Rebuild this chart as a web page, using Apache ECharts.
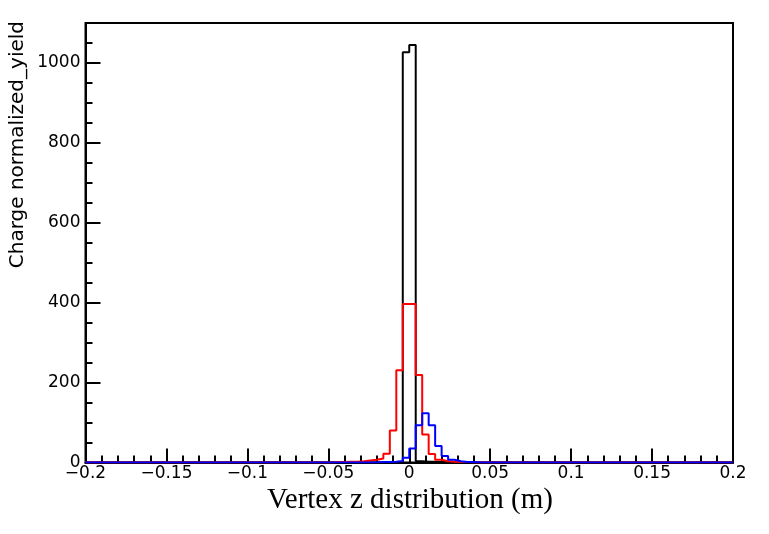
<!DOCTYPE html>
<html>
<head>
<meta charset="utf-8">
<script src="https://cdn.jsdelivr.net/npm/echarts@6/dist/echarts.min.js"></script>
<style>
html,body{margin:0;padding:0;background:#fff;}
#chart{width:769px;height:534px;}
</style>
</head>
<body>
<div id="chart"></div>
<script>
// Histogram binning
const axisMin = -0.2;
const axisMax = 0.2;
const binWidth = 0.004;
// values of the bins starting at windowLow (all other bins are empty)
const windowLow = -0.048;
const blackValues = [0, 0, 0, 0, 0, 0, 0, 0, 0, 0, 1, 1027, 1045, 3, 2, 2, 1, 1, 1, 0, 0, 0, 0, 0];
const redValues   = [1, 1, 2, 2, 3, 5, 7, 10, 22, 80, 231, 397, 397, 219, 70, 21, 7, 3, 2, 1, 1, 0, 0, 0];
const blueValues  = [0, 0, 0, 0, 0, 0, 0, 1, 1, 2, 4, 12, 35, 93, 123, 93, 41, 16, 7, 3, 1, 1, 0, 0];

const xTicks = [-0.2, -0.15, -0.1, -0.05, 0, 0.05, 0.1, 0.15, 0.2];
const yTicks = [0, 200, 400, 600, 800, 1000];

const xTitle = 'Vertex z distribution (m)';
const yTitle = 'Charge normalized_yield';

function histPoints(values) {
  const pts = [[axisMin, 0]];
  for (let i = 0; i < values.length; i++) {
    pts.push([+(windowLow + i * binWidth).toFixed(4), values[i]]);
  }
  const hi = +(windowLow + values.length * binWidth).toFixed(4);
  pts.push([hi, 0]);
  pts.push([axisMax, 0]);
  return pts;
}

const chart = echarts.init(document.getElementById('chart'), null, {renderer: 'canvas'});
const labelFont = 'DejaVu Sans';
const option = {
  animation: false,
  backgroundColor: '#ffffff',
  grid: {
    left: 85.5, right: 36, top: 23, bottom: 71.5,
    show: true, borderColor: '#000', borderWidth: 2, backgroundColor: 'transparent'
  },
  xAxis: {
    type: 'value',
    min: axisMin, max: axisMax, interval: 0.05,
    axisLine: {show: true, onZero: false, lineStyle: {color: '#000', width: 2}},
    axisTick: {show: true, inside: true, length: 14, lineStyle: {color: '#000', width: 2}},
    minorTick: {show: true, splitNumber: 5, length: 7, lineStyle: {color: '#000', width: 2}},
    splitLine: {show: false},
    axisLabel: {
      color: '#000', fontFamily: labelFont, fontSize: 17, margin: 3,
      formatter: function (v) {
        const r = parseFloat(v.toFixed(2));
        if (xTicks.indexOf(r) < 0) return '';
        if (r === 0) return '0';
        return (r < 0 ? '\u2212' : '') + String(Math.abs(r));
      }
    }
  },
  yAxis: {
    type: 'value',
    min: 0, max: 1100, interval: 200,
    axisLine: {show: true, onZero: false, lineStyle: {color: '#000', width: 2}},
    axisTick: {show: true, inside: true, length: 15, lineStyle: {color: '#000', width: 2}},
    minorTick: {show: true, splitNumber: 4, length: 7, lineStyle: {color: '#000', width: 2}},
    splitLine: {show: false},
    axisLabel: {
      color: '#000', fontFamily: labelFont, fontSize: 17, margin: 5,
      formatter: function (v) { return yTicks.indexOf(v) >= 0 ? String(v) : ''; }
    }
  },
  graphic: [
    {
      type: 'text', x: 410, y: 500,
      style: {text: xTitle, font: '29px "Liberation Serif"', fill: '#000', align: 'center', verticalAlign: 'middle'}
    },
    {
      type: 'text', x: 18, y: 21, rotation: Math.PI / 2,
      style: {text: yTitle, font: '20px "DejaVu Sans"', fill: '#000', align: 'right', verticalAlign: 'middle'}
    }
  ],
  series: [
    {type: 'line', step: 'end', symbol: 'none', data: histPoints(blackValues), lineStyle: {color: '#000', width: 2}, z: 2},
    {type: 'line', step: 'end', symbol: 'none', data: histPoints(redValues), lineStyle: {color: '#ff0000', width: 2}, z: 3},
    {type: 'line', step: 'end', symbol: 'none', data: histPoints(blueValues), lineStyle: {color: '#0000ff', width: 2}, z: 4}
  ]
};
chart.setOption(option);
</script>
</body>
</html>
